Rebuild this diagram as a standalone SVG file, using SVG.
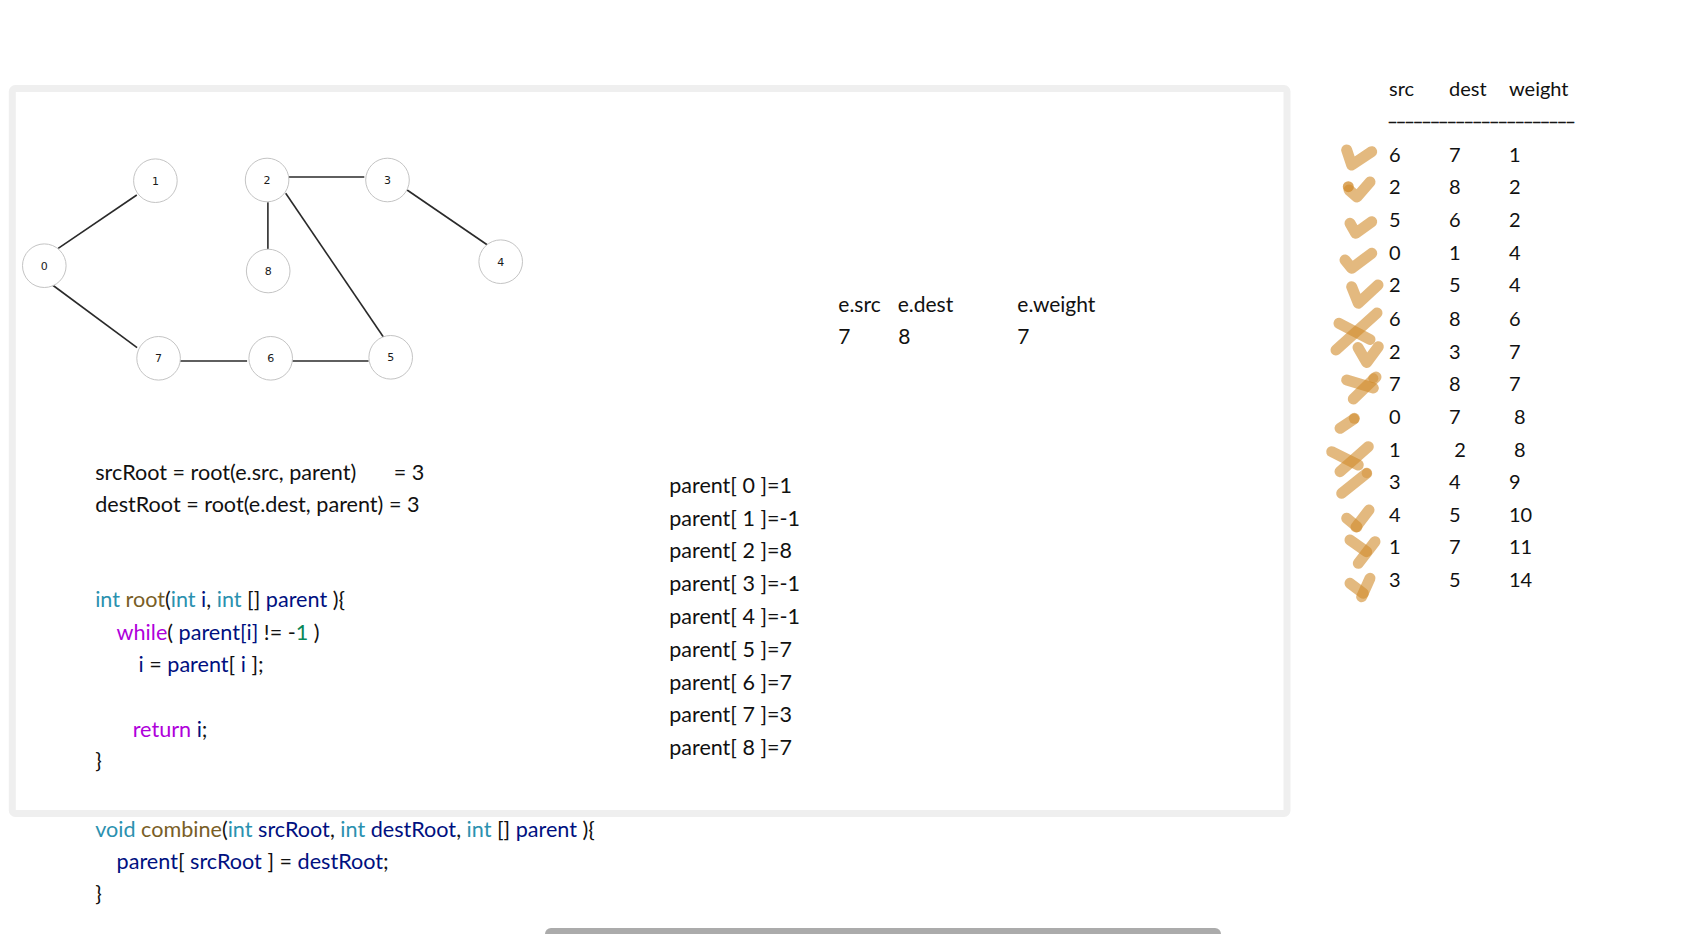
<svg xmlns="http://www.w3.org/2000/svg" width="1690" height="934" viewBox="0 0 1690 934">
<style>
.t{font-family:Lato,"Open Sans",sans-serif;font-size:20px;fill:#111;white-space:pre}
.c{font-size:21.6px}
.p{font-size:21.5px}
.e{font-size:21px}
.nl{font-family:"DejaVu Sans",sans-serif;font-size:11px;fill:#1a1a1a;text-anchor:middle}
.node circle{fill:#fff;stroke:#c4c4c4;stroke-width:1}
.edge{stroke:#2a2a2a;stroke-width:1.6;fill:none}
.ty{fill:#2b91af}.fn{fill:#795e26}.va{fill:#001080}.kw{fill:#af00db}.nu{fill:#098658}.pu{fill:#111}
.mk{fill:none;stroke:#d08a2a;stroke-opacity:0.6;stroke-width:11;stroke-linecap:round;stroke-linejoin:round}
.dot{fill:#d08a2a;fill-opacity:0.75}
</style>
<rect width="1690" height="934" fill="#fff"/>
<rect x="12.3" y="88.5" width="1274.7" height="725" rx="3" fill="none" stroke="#efefef" stroke-width="7"/>
<g id="connectors">
<line class="edge" x1="136.8" y1="195" x2="58.2" y2="248.3"/>
<line class="edge" x1="52.5" y1="285" x2="137.1" y2="347.7"/>
<line class="edge" x1="288.2" y1="177" x2="364.3" y2="177"/>
<line class="edge" x1="267.9" y1="202.3" x2="267.9" y2="249.3"/>
<line class="edge" x1="285.7" y1="193.3" x2="383.9" y2="337.7"/>
<line class="edge" x1="407.1" y1="190" x2="487.5" y2="245"/>
<line class="edge" x1="179.6" y1="361" x2="247.1" y2="361"/>
<line class="edge" x1="292.1" y1="361" x2="368.6" y2="361"/>
</g>
<g id="node0" class="node"><circle cx="44.3" cy="265.7" r="21.8"/><text class="nl" x="44.3" y="269.7">0</text></g>
<g id="node1" class="node"><circle cx="155.4" cy="180.7" r="21.8"/><text class="nl" x="155.4" y="184.7">1</text></g>
<g id="node2" class="node"><circle cx="267.1" cy="180" r="21.8"/><text class="nl" x="267.1" y="184">2</text></g>
<g id="node3" class="node"><circle cx="387.5" cy="180" r="21.8"/><text class="nl" x="387.5" y="184">3</text></g>
<g id="node4" class="node"><circle cx="500.7" cy="261.7" r="21.8"/><text class="nl" x="500.7" y="265.7">4</text></g>
<g id="node5" class="node"><circle cx="390.7" cy="357.3" r="21.8"/><text class="nl" x="390.7" y="361.3">5</text></g>
<g id="node6" class="node"><circle cx="270.7" cy="358.3" r="21.8"/><text class="nl" x="270.7" y="362.3">6</text></g>
<g id="node7" class="node"><circle cx="158.6" cy="358.3" r="21.8"/><text class="nl" x="158.6" y="362.3">7</text></g>
<g id="node8" class="node"><circle cx="268.2" cy="271" r="21.8"/><text class="nl" x="268.2" y="275">8</text></g>

<g id="edge-info">
<text class="t e" x="838.3" y="311.7">e.src</text>
<text class="t e" x="897.7" y="311.7">e.dest</text>
<text class="t e" x="1017.3" y="311.7">e.weight</text>
<text class="t e" x="838.3" y="344.3">7</text>
<text class="t e" x="898.3" y="344.3">8</text>
<text class="t e" x="1017.3" y="344.3">7</text>
</g>

<g id="roots">
<text class="t c" x="95.2" y="480">srcRoot = root(e.src, parent)</text>
<text class="t c" x="393.7" y="480">= 3</text>
<text class="t c" x="95.2" y="512.3">destRoot = root(e.dest, parent) = 3</text>
</g>

<g id="code-root">
<text class="t c" x="95.2" y="606.5"><tspan class="ty">int</tspan><tspan class="fn"> root</tspan><tspan class="pu">(</tspan><tspan class="ty">int</tspan><tspan class="va"> i</tspan><tspan class="pu">, </tspan><tspan class="ty">int</tspan><tspan class="pu"> [] </tspan><tspan class="va">parent</tspan><tspan class="pu"> ){</tspan></text>
<text class="t c" x="116.6" y="639.8"><tspan class="kw">while</tspan><tspan class="pu">( </tspan><tspan class="va">parent[i]</tspan><tspan class="pu"> != -</tspan><tspan class="nu">1</tspan><tspan class="pu"> )</tspan></text>
<text class="t c" x="138.5" y="671.5"><tspan class="va">i</tspan><tspan class="pu"> = </tspan><tspan class="va">parent</tspan><tspan class="pu">[ </tspan><tspan class="va">i</tspan><tspan class="pu"> ];</tspan></text>
<text class="t c" x="132.7" y="736.5"><tspan class="kw">return</tspan><tspan class="va"> i</tspan><tspan class="pu">;</tspan></text>
<text class="t c" x="95.2" y="767.5">}</text>
</g>

<g id="code-combine">
<text class="t c" x="95.2" y="836.5"><tspan class="ty">void</tspan><tspan class="fn"> combine</tspan><tspan class="pu">(</tspan><tspan class="ty">int</tspan><tspan class="va"> srcRoot</tspan><tspan class="pu">, </tspan><tspan class="ty">int</tspan><tspan class="va"> destRoot</tspan><tspan class="pu">, </tspan><tspan class="ty">int</tspan><tspan class="pu"> [] </tspan><tspan class="va">parent</tspan><tspan class="pu"> ){</tspan></text>
<text class="t c" x="116.6" y="869.2"><tspan class="va">parent</tspan><tspan class="pu">[ </tspan><tspan class="va">srcRoot</tspan><tspan class="pu"> ] = </tspan><tspan class="va">destRoot</tspan><tspan class="pu">;</tspan></text>
<text class="t c" x="95.2" y="900.5">}</text>
</g>

<g id="parent-array">
<text class="t p" x="669.3" y="492.7">parent[ 0 ]=1</text>
<text class="t p" x="669.3" y="525.5">parent[ 1 ]=-1</text>
<text class="t p" x="669.3" y="558.3">parent[ 2 ]=8</text>
<text class="t p" x="669.3" y="591.1">parent[ 3 ]=-1</text>
<text class="t p" x="669.3" y="623.9">parent[ 4 ]=-1</text>
<text class="t p" x="669.3" y="656.7">parent[ 5 ]=7</text>
<text class="t p" x="669.3" y="689.5">parent[ 6 ]=7</text>
<text class="t p" x="669.3" y="722.3">parent[ 7 ]=3</text>
<text class="t p" x="669.3" y="755.1">parent[ 8 ]=7</text>
</g>

<g id="edge-table">
<text class="t" x="1389" y="95.7">src</text>
<text class="t" x="1449" y="95.7">dest</text>
<text class="t" x="1509" y="95.7">weight</text>
<text x="1389" y="126" textLength="185" lengthAdjust="spacing" style="font-family:'Liberation Sans',sans-serif;font-size:12.5px;fill:#111;stroke:#111;stroke-width:0.6">––––––––––––––––––––––</text>
<g>
<text class="t" x="1389" y="161.7">6</text><text class="t" x="1449" y="161.7">7</text><text class="t" x="1509" y="161.7">1</text>
<text class="t" x="1389" y="194.3">2</text><text class="t" x="1449" y="194.3">8</text><text class="t" x="1509" y="194.3">2</text>
<text class="t" x="1389" y="227">5</text><text class="t" x="1449" y="227">6</text><text class="t" x="1509" y="227">2</text>
<text class="t" x="1389" y="259.6">0</text><text class="t" x="1449" y="259.6">1</text><text class="t" x="1509" y="259.6">4</text>
<text class="t" x="1389" y="292.3">2</text><text class="t" x="1449" y="292.3">5</text><text class="t" x="1509" y="292.3">4</text>
<text class="t" x="1389" y="325.9">6</text><text class="t" x="1449" y="325.9">8</text><text class="t" x="1509" y="325.9">6</text>
<text class="t" x="1389" y="358.5">2</text><text class="t" x="1449" y="358.5">3</text><text class="t" x="1509" y="358.5">7</text>
<text class="t" x="1389" y="391.2">7</text><text class="t" x="1449" y="391.2">8</text><text class="t" x="1509" y="391.2">7</text>
<text class="t" x="1389" y="423.8">0</text><text class="t" x="1449" y="423.8">7</text><text class="t" x="1514" y="423.8">8</text>
<text class="t" x="1389" y="456.5">1</text><text class="t" x="1454.3" y="456.5">2</text><text class="t" x="1514" y="456.5">8</text>
<text class="t" x="1389" y="489.1">3</text><text class="t" x="1449" y="489.1">4</text><text class="t" x="1509" y="489.1">9</text>
<text class="t" x="1389" y="521.8">4</text><text class="t" x="1449" y="521.8">5</text><text class="t" x="1509" y="521.8">10</text>
<text class="t" x="1389" y="554.4">1</text><text class="t" x="1449" y="554.4">7</text><text class="t" x="1509" y="554.4">11</text>
<text class="t" x="1389" y="587.1">3</text><text class="t" x="1449" y="587.1">5</text><text class="t" x="1509" y="587.1">14</text>
</g>
</g>

<g id="marks">
<path class="mk" d="M1346.7,150 L1351.7,165 L1371.7,151.7"/>
<path class="mk" d="M1349,190 L1357,197 L1370,182"/>
<circle class="dot" cx="1348.3" cy="186.7" r="5.5"/>
<path class="mk" d="M1350,223.3 L1355.7,233.3 L1371.7,221.7"/>
<path class="mk" d="M1345,260 L1351.7,268.3 L1371.7,253.3"/>
<path class="mk" d="M1351.7,286.7 L1358.3,303.3 L1378,285"/>
<path class="mk" d="M1377,313 L1336,350"/>
<path class="mk" d="M1339,323.3 L1370,339.5"/>
<path class="mk" d="M1358,347.5 L1366.7,362.5 L1378.3,346.7"/>
<path class="mk" d="M1346.7,380 L1373.3,388"/>
<path class="mk" d="M1353.3,399 L1376,377"/>
<circle class="dot" cx="1373.3" cy="378.3" r="5" style="fill-opacity:0.5"/>
<path class="mk" d="M1340,428.3 L1354,419"/>
<circle class="dot" cx="1354.3" cy="418.3" r="5.5" style="fill-opacity:0.55"/>
<path class="mk" d="M1331.7,451.7 L1358.3,465"/>
<path class="mk" d="M1368.3,446.7 L1340,471.7"/>
<path class="mk" d="M1366.7,473.3 L1341.7,493.3"/>
<circle class="dot" cx="1366.7" cy="473.3" r="5" style="fill-opacity:0.45"/>
<path class="mk" d="M1346.7,518.3 L1357,526.7"/>
<path class="mk" d="M1356,527 L1369,510"/>
<path class="mk" d="M1350,540 L1366.7,551.7"/>
<path class="mk" d="M1375,541.7 L1358.3,563.3"/>
<path class="mk" d="M1350,583.3 L1363.3,593.3"/>
<path class="mk" d="M1370,578.3 L1361.7,596.7"/>
</g>

<rect x="545" y="928" width="676" height="12" rx="6" fill="#ababab"/>
</svg>
